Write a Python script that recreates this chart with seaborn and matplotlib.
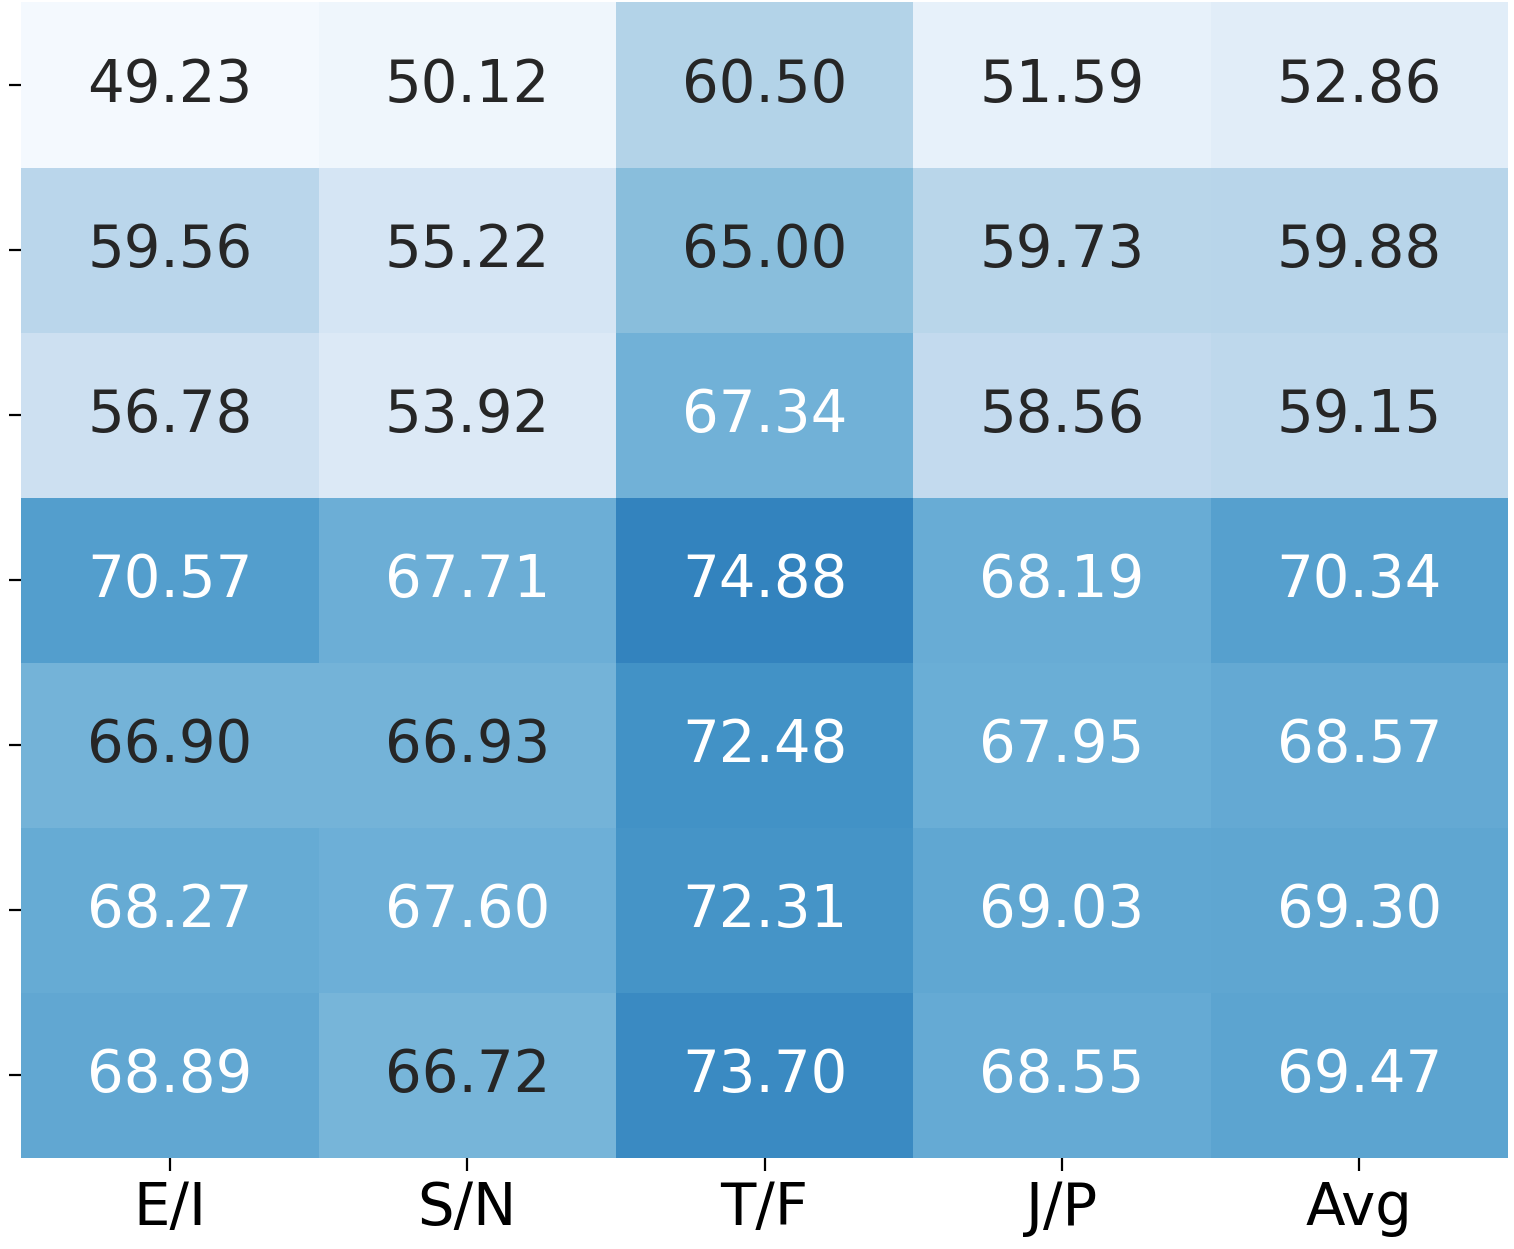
import numpy as np
import pandas as pd
import matplotlib
matplotlib.use("Agg")
import matplotlib.pyplot as plt
import seaborn as sns

# columns and rows of the table
dims = ["E/I", "S/N", "T/F", "J/P", "Avg"]
rows = ["", "", "", "", "", "", ""]

row1 = [49.23, 50.12, 60.50, 51.59, 52.86]
row2 = [59.56, 55.22, 65.00, 59.73, 59.88]
row3 = [56.78, 53.92, 67.34, 58.56, 59.15]
row4 = [70.57, 67.71, 74.88, 68.19, 70.34]
row5 = [66.90, 66.93, 72.48, 67.95, 68.57]
row6 = [68.27, 67.60, 72.31, 69.03, 69.30]
row7 = [68.89, 66.72, 73.70, 68.55, 69.47]

df = pd.DataFrame([row1, row2, row3, row4, row5, row6, row7], columns=dims)

fig, ax = plt.subplots(figsize=(7.57, 6.245), dpi=200)
sns.heatmap(df, annot=True, fmt=".2f", cmap="Blues", vmin=48.5, vmax=87.1,
            cbar=False, annot_kws={"size": 20.8}, ax=ax)
ax.set_yticklabels(rows)
ax.tick_params(axis="x", labelsize=20.8, length=4.5)
ax.tick_params(axis="y", length=4.5)
plt.subplots_adjust(left=0.014, right=0.996, top=0.998, bottom=0.073)
plt.savefig("out.png", dpi=200)
